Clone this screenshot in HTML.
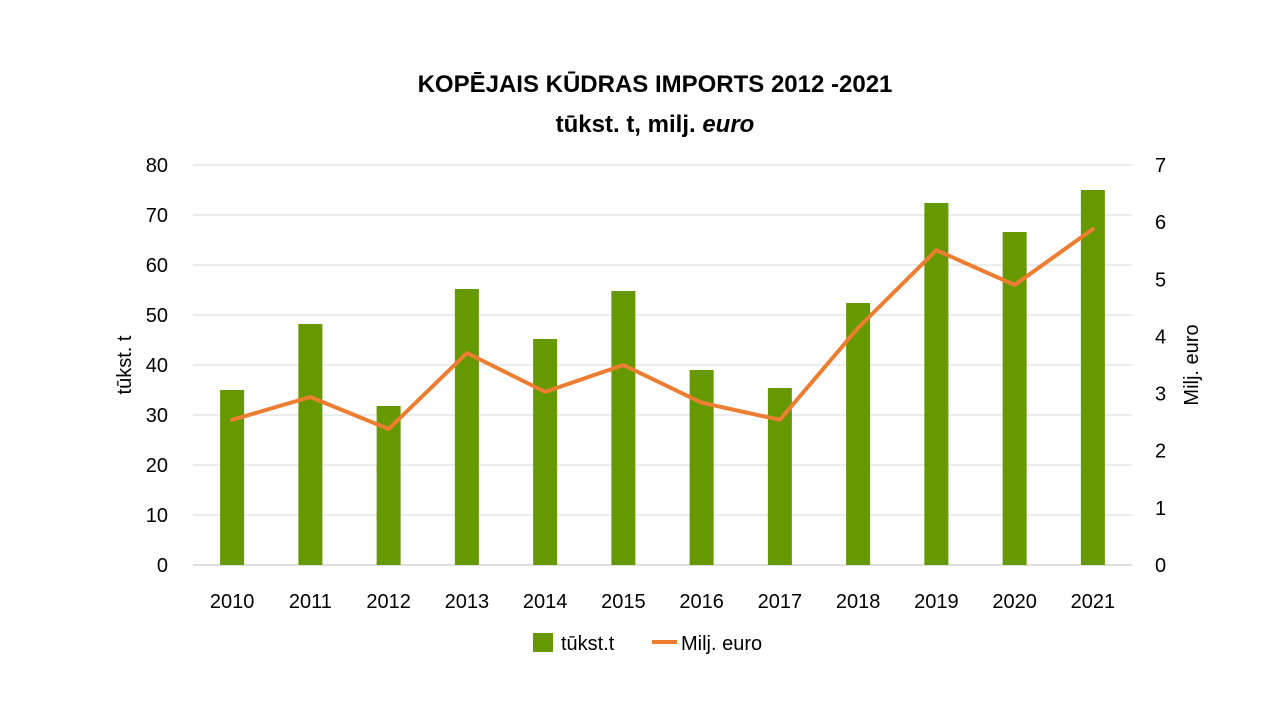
<!DOCTYPE html>
<html><head><meta charset="utf-8"><style>
body{margin:0;background:#fff;}
svg{display:block;font-family:"Liberation Sans",sans-serif;}
</style></head><body>
<svg id="chart" width="1280" height="720">
<text x="655" y="92" text-anchor="middle" font-size="24" font-weight="bold">KOPĒJAIS KŪDRAS IMPORTS 2012 -2021</text>
<text x="655" y="132" text-anchor="middle" font-size="24" font-weight="bold">tūkst. t, milj. <tspan font-style="italic">euro</tspan></text>
<g id="grid"></g>
<g id="bars"></g>
<g id="line"></g>
<g id="axes"></g>
<text transform="translate(131,365) rotate(-90)" text-anchor="middle" font-size="20">tūkst. t</text>
<text transform="translate(1198,365) rotate(-90)" text-anchor="middle" font-size="20">Milj. euro</text>
<g>
<rect x="533" y="633" width="20" height="19" fill="#669900"/>
<text x="561" y="650" font-size="20">tūkst.t</text>
<line x1="652" y1="642" x2="677" y2="642" stroke="#ED7D31" stroke-width="4"/>
<text x="681" y="650" font-size="20">Milj. euro</text>
</g>
</svg>
<script>
const categories=["2010","2011","2012","2013","2014","2015","2016","2017","2018","2019","2020","2021"];
const tonnes=[35,48.2,31.8,55.2,45.2,54.8,39,35.4,52.4,72.4,66.6,75];
const euro=[2.54,2.94,2.38,3.71,3.03,3.5,2.84,2.54,4.15,5.51,4.9,5.88];
const leftTicks=[0,10,20,30,40,50,60,70,80];
const rightTicks=[0,1,2,3,4,5,6,7];
const NS="http://www.w3.org/2000/svg";
const L=193,R=1132,T=165,B=565;
const yL=v=>B-(v/80)*(B-T);
const yR=v=>B-(v/7)*(B-T);
const bw=(R-L)/categories.length;
const xC=i=>L+bw*(i+0.5);
function mk(tag,attrs,parent,txt){const e=document.createElementNS(NS,tag);for(const k in attrs)e.setAttribute(k,attrs[k]);if(txt!==undefined)e.textContent=txt;document.getElementById(parent).appendChild(e);return e;}
leftTicks.forEach(t=>{
 const g=mk('line',{x1:L,x2:R,y1:yL(t),y2:yL(t),stroke:t===0?'#bfbfbf':'#d9d9d9','stroke-width':1},'grid');
 
 
 const l=mk('text',{x:168,y:yL(t)+7,'text-anchor':'end','font-size':20},'axes',t);
 
 
});
rightTicks.forEach(t=>{
 const l=mk('text',{x:1155,y:yR(t)+7,'text-anchor':'start','font-size':20},'axes',t);
 
 
});
categories.forEach((c,i)=>{
 const l=mk('text',{x:xC(i),y:608,'text-anchor':'middle','font-size':20},'axes',c);
 
 
 const b=mk('rect',{x:xC(i)-12,y:yL(tonnes[i]),width:24,height:B-yL(tonnes[i]),fill:'#669900'},'bars');
 
 
});
const pts=euro.map((v,i)=>xC(i)+','+yR(v)).join(' ');
const pl=mk('polyline',{points:pts,fill:'none',stroke:'#ED7D31','stroke-width':4,'stroke-linejoin':'round','stroke-linecap':'round'},'line');


</script>
</body></html>
